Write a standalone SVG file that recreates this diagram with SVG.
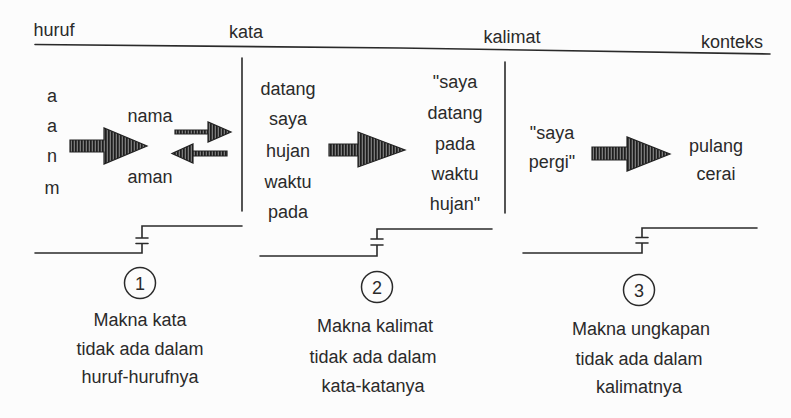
<svg xmlns="http://www.w3.org/2000/svg" width="791" height="418" viewBox="0 0 791 418">
  <defs>
    <pattern id="hatch" patternUnits="userSpaceOnUse" width="3" height="6">
      <rect width="3" height="6" fill="#7a7a7a"/>
      <rect width="1.7" height="6" fill="#1e1e1e"/>
    </pattern>
    <style>
      text { font-family: "Liberation Sans", Arial, sans-serif; font-size: 18px; fill: #2a2a2a; text-anchor: middle; }
      .ln { fill: none; stroke: #2a2a2a; stroke-width: 1.6; stroke-linecap: round; }
      .arr { fill: url(#hatch); stroke: #222; stroke-width: 1.2; stroke-linejoin: miter; }
      .circ { fill: none; stroke: #2a2a2a; stroke-width: 1.5; }
    </style>
  </defs>
  <rect width="791" height="418" fill="#fcfcfc"/>

  <g id="header">
    <text x="54" y="36">huruf</text>
    <text x="246" y="38">kata</text>
    <text x="512" y="43">kalimat</text>
    <text x="732" y="48">konteks</text>
    <polyline class="ln" points="35,44.5 400,48 770,54"/>
  </g>

  <g id="dividers">
    <line class="ln" x1="242" y1="58" x2="242" y2="211"/>
    <line class="ln" x1="505" y1="62" x2="505" y2="213"/>
  </g>

  <g id="huruf">
    <text x="52" y="102">a</text>
    <text x="52" y="132">a</text>
    <text x="52" y="162">n</text>
    <text x="52" y="194">m</text>
  </g>

  <g id="kata-words">
    <text x="150" y="122">nama</text>
    <text x="150" y="183">aman</text>
  </g>

  <g id="kata-list">
    <text x="288" y="95">datang</text>
    <text x="288" y="125">saya</text>
    <text x="288" y="157">hujan</text>
    <text x="288" y="188">waktu</text>
    <text x="288" y="218">pada</text>
  </g>

  <g id="kalimat-list">
    <text x="455" y="88">"saya</text>
    <text x="455" y="119">datang</text>
    <text x="455" y="150">pada</text>
    <text x="455" y="180">waktu</text>
    <text x="455" y="210">hujan"</text>
  </g>

  <g id="ungkapan">
    <text x="552" y="139">"saya</text>
    <text x="552" y="168">pergi"</text>
  </g>

  <g id="konteks-words">
    <text x="716" y="152">pulang</text>
    <text x="716" y="180">cerai</text>
  </g>

  <g id="connectors">
    <polygon class="arr" points="70,140 104,140 104,128 147,146 104,164 104,152 70,152"/>
    <polygon class="arr" points="175,130 208,130 208,122 231,132 208,142 208,134 175,134"/>
    <polygon class="arr" points="227,151 193,151 193,144 172,153.5 193,163 193,156 227,156"/>
    <polygon class="arr" points="329,144 358,144 358,132 405,150 358,167 358,156 329,156"/>
    <polygon class="arr" points="592,147 627,147 627,137 670,154 627,171 627,160 592,160"/>

    <path class="ln" d="M35,253 H142 V243.5 M136,243.5 H148 M136,238 H148 M142,238 V226 H242"/>
    <path class="ln" d="M260,256 H377 V245 M371,245 H383 M371,239 H383 M377,239 V229 H492"/>
    <path class="ln" d="M523,253 H642 V243 M636,243 H648 M636,237.5 H648 M642,237.5 V228 H757"/>
  </g>

  <g id="meaning-1">
    <circle class="circ" cx="140" cy="283" r="15.5"/>
    <text x="140" y="289.5">1</text>
    <text x="140" y="326">Makna kata</text>
    <text x="140" y="355">tidak ada dalam</text>
    <text x="140" y="383">huruf-hurufnya</text>
  </g>

  <g id="meaning-2">
    <circle class="circ" cx="377" cy="287" r="15.5"/>
    <text x="377" y="293.5">2</text>
    <text x="375" y="332">Makna kalimat</text>
    <text x="373" y="363">tidak ada dalam</text>
    <text x="373" y="392">kata-katanya</text>
  </g>

  <g id="meaning-3">
    <circle class="circ" cx="639" cy="290" r="15.5"/>
    <text x="639" y="296.5">3</text>
    <text x="641" y="335">Makna ungkapan</text>
    <text x="639" y="365">tidak ada dalam</text>
    <text x="639" y="393">kalimatnya</text>
  </g>
</svg>
